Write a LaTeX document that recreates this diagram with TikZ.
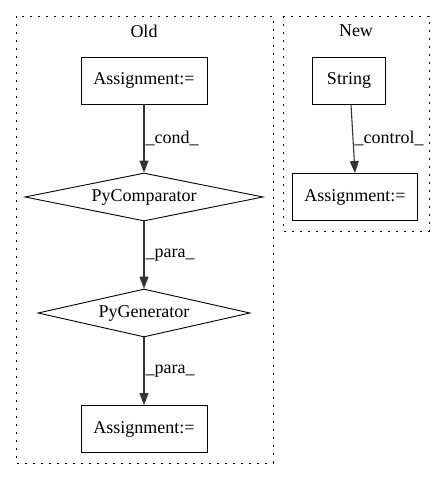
\documentclass[tikz,border=0pt]{standalone}
\usepackage{fontspec}
\setmainfont{Liberation Serif}
\usetikzlibrary{arrows.meta,shapes.geometric}

\tikzset{
    cluster/.style={draw, line width=0.9pt, dash pattern=on 1.6pt off 6.4pt},
    stmt/.style={draw, line width=0.9pt, minimum height=47pt, inner sep=0pt},
    cmp/.style={draw, diamond, aspect=5, line width=0.9pt, minimum height=48pt, inner sep=0pt},
    flow/.style={line width=1.1pt, draw=black!80, -{Triangle[length=12pt,width=9pt]}},
    lbl/.style={right, inner sep=1pt}
}

\begin{document}
\begin{tikzpicture}[x=1pt, y=-1pt, font=\fontsize{18}{22}\selectfont]
    \useasboundingbox (0,0) rectangle (445,480);
    % clusters
    \draw[cluster] (16,16) rectangle (273,463);
    \draw[cluster] (283,16) rectangle (429,231);
    \node (oldtitle) at (144,31) {Old};
    \node (newtitle) at (356,31) {New};
    % old side
    \node[stmt, minimum width=126pt] (oldassign) at (144,80.5) {Assignment:=};
    \node[cmp, minimum width=238pt] (pycomp) at (144,197) {PyComparator};
    \node[cmp, minimum width=212pt] (pygen) at (144,313) {PyGenerator};
    \node[stmt, minimum width=126pt] (oldresult) at (144,429) {Assignment:=};
    % new side
    \node[stmt, minimum width=73pt] (string) at (349,80.5) {String};
    \node[stmt, minimum width=125pt] (newassign) at (355,197) {Assignment:=};
    % edges
    \draw[flow] (oldassign) -- node[lbl] {\_cond\_} (pycomp);
    \draw[flow] (pycomp) -- node[lbl] {\_para\_} (pygen);
    \draw[flow] (pygen) -- node[lbl] {\_para\_} (oldresult);
    \draw[flow] (string.south -| 351,0) -- node[lbl] {\_control\_} (newassign.north -| 355,0);
\end{tikzpicture}
\end{document}
